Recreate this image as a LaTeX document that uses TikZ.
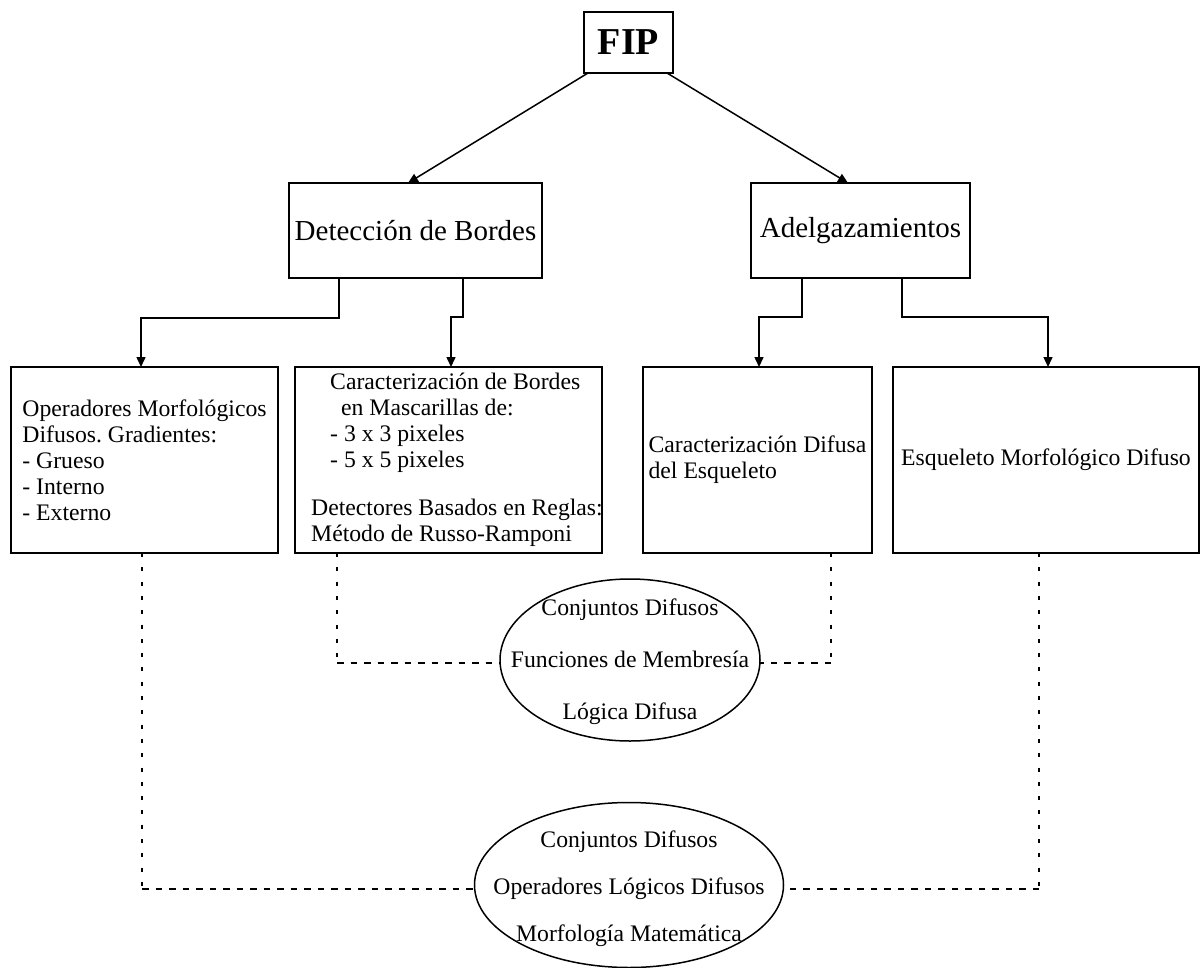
\documentclass[tikz,border=0pt]{standalone}
\usepackage{fontspec}
\setmainfont{Liberation Serif}
\usetikzlibrary{arrows.meta,shapes.geometric,calc}
\frenchspacing

\begin{document}
\begin{tikzpicture}[x=1pt,y=-1pt,
  box/.style={draw, line width=1.6pt, inner sep=0pt, outer sep=0pt,
    font=\fontsize{23.7}{26}\selectfont, align=left},
  head/.style={draw, line width=1.6pt, inner sep=0pt, outer sep=0pt,
    font=\fontsize{29}{32}\selectfont},
  oval/.style={draw, ellipse, line width=1.5pt, inner sep=0pt, outer sep=0pt},
  txt/.style={inner sep=0pt, font=\fontsize{23.7}{26}\selectfont},
  arr/.style={line width=1.5pt, -{Triangle[length=10pt,width=9pt]}},
  vdot/.style={line width=2.4pt, dash pattern=on 4pt off 10.3pt},
  hdot/.style={line width=2.5pt, dash pattern=on 6.5pt off 7pt},
]
\useasboundingbox (0,0) rectangle (1204,968);
\fill[white] (0,0) rectangle (1204,968);

% top of the hierarchy
\node[head, minimum width=89pt, minimum height=61pt,
      font=\fontsize{38}{40}\selectfont\bfseries] (fip) at (628.5,42.5) {FIP};

% second level
\node[head, minimum width=253pt, minimum height=95pt] (det) at (415.5,230.5) {Detección de Bordes};
\node[head, minimum width=219pt, minimum height=95pt] (adel) at (860.5,230.5) {Adelgazamientos};

% third level
\node[box, minimum width=267pt, minimum height=186pt] (b1) at (144.5,460)
  {Operadores Morfológicos\\Difusos. Gradientes:\\- Grueso\\- Interno\\- Externo};
\node[box, minimum width=307pt, minimum height=186pt] (b2) at (448.5,460) {};
\node[txt, align=left, anchor=west] (b2t) at (311,459.5)
  {\hspace*{19pt}Caracterización de Bordes\\
   \hspace*{30pt}en Mascarillas de:\\
   \hspace*{19pt}- 3 x 3 pixeles\\
   \hspace*{19pt}- 5 x 5 pixeles\\[22pt]
   Detectores Basados en Reglas:\\
   Método de Russo-Ramponi};
\node[box, minimum width=229pt, minimum height=186pt] (b3) at (757.5,460)
  {Caracterización Difusa\\del Esqueleto};
\node[box, minimum width=306pt, minimum height=186pt] (b4) at (1046,460)
  {Esqueleto Morfológico Difuso};

% foundations
\node[oval, minimum width=260pt, minimum height=162pt] (e1) at (630,660) {};
\node[txt, align=center] (e1t) at (630,662)
  {Conjuntos Difusos\\[26pt]Funciones de Membresía\\[26pt]Lógica Difusa};
\node[oval, minimum width=309pt, minimum height=165pt] (e2) at (629,885) {};
\node[txt, align=center] (e2t) at (629,889)
  {Conjuntos Difusos\\[21pt]Operadores Lógicos Difusos\\[21pt]Morfología Matemática};

% solid connectors
\draw[arr] ([xshift=4pt]fip.south west) -- ([xshift=119pt]det.north west);
\draw[arr] ([xshift=-6pt]fip.south east) -- ([xshift=97pt]adel.north west);

\draw[arr] ([xshift=50pt]det.south west) -- ++(0,40) -| ([xshift=130pt]b1.north west);
\draw[arr] ([xshift=174pt]det.south west) -- ++(0,39) -| ([xshift=156pt]b2.north west);
\draw[arr] ([xshift=51pt]adel.south west) -- ++(0,39) -| ([xshift=116pt]b3.north west);
\draw[arr] ([xshift=151pt]adel.south west) -- ++(0,39) -| ([xshift=155pt]b4.north west);

% dotted links to the foundations
\path (e1.west) ++(0,3) coordinate (e1l);
\path (e1.east) ++(0,3) coordinate (e1r);
\path (e2.west) ++(0,4) coordinate (e2l);
\path (e2.east) ++(0,4) coordinate (e2r);

\path (b2.south west) ++(42,0) coordinate (b2d);
\draw[vdot] (b2d) -- (b2d |- e1l) coordinate (k2);
\draw[hdot] (k2) -- (e1l);

\path (b3.south west) ++(188,0) coordinate (b3d);
\draw[vdot] (b3d) -- (b3d |- e1r) coordinate (k3);
\draw[hdot] (k3) -- (e1r);

\path (b1.south west) ++(131,0) coordinate (b1d);
\draw[vdot] (b1d) -- (b1d |- e2l) coordinate (k1);
\draw[hdot] (k1) -- (e2l);

\path (b4.south west) ++(146,0) coordinate (b4d);
\draw[vdot] (b4d) -- (b4d |- e2r) coordinate (k4);
\draw[hdot] (k4) -- (e2r);
\end{tikzpicture}
\end{document}
